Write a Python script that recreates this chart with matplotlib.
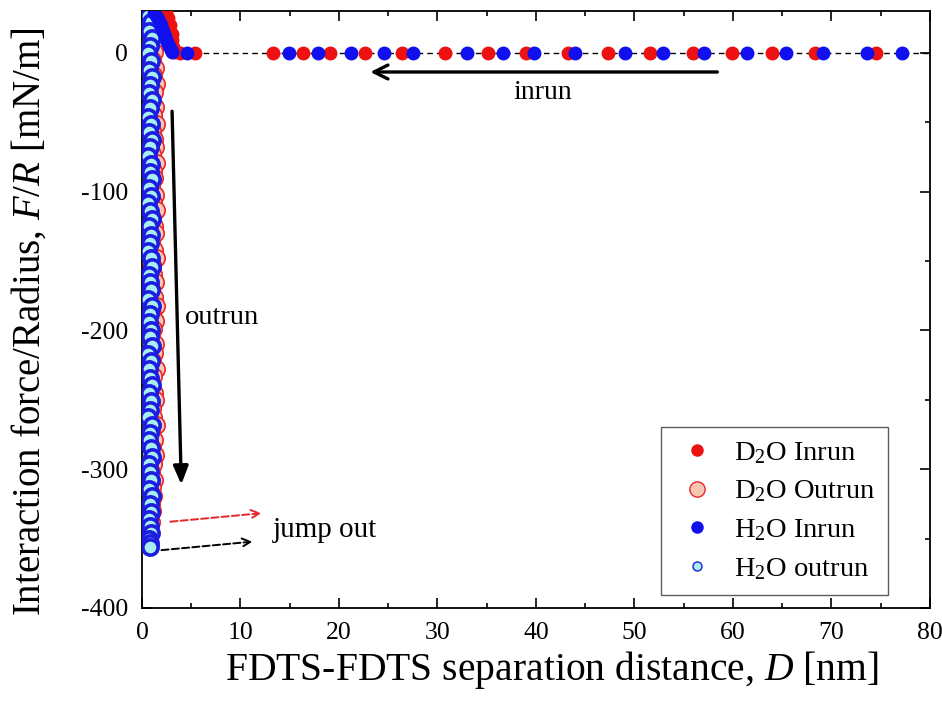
import matplotlib
matplotlib.use("Agg")
import matplotlib.pyplot as plt
from matplotlib.lines import Line2D

plt.rcParams['font.family'] = ['Liberation Serif', 'DejaVu Serif']
plt.rcParams['mathtext.fontset'] = 'custom'
plt.rcParams['mathtext.rm'] = 'Liberation Serif'
plt.rcParams['mathtext.it'] = 'Liberation Serif:italic'
plt.rcParams['axes.unicode_minus'] = False

# ---- data ----
# D2O approach (inrun)
d2o_in_x = [74.5, 68.3, 64.0, 59.9, 55.9, 51.6, 47.3, 43.3, 39.0, 35.1,
            30.8, 26.4, 22.6, 19.1, 16.3, 13.3, 5.4, 3.9, 3.3, 3.2,
            3.1, 3.0, 2.8, 2.6, 2.4]
d2o_in_y = [0, 0, 0, 0, 0, 0, 0, 0, 0, 0,
            0, 0, 0, 0, 0, 0, 0, 0, 1, 4,
            9, 14, 20, 25, 29]

# H2O approach (inrun)
h2o_in_x = [77.2, 73.6, 69.1, 65.4, 61.4, 57.1, 52.9, 49.0, 44.0, 39.8,
            36.7, 33.0, 27.5, 24.6, 21.2, 17.9, 14.9, 4.6, 3.1, 2.9,
            2.7, 2.5, 2.3, 2.1, 1.9, 1.7, 1.5, 1.2]
h2o_in_y = [0, 0, 0, 0, 0, 0, 0, 0, 0, 0,
            0, 0, 0, 0, 0, 0, 0, 0, 0.5, 2,
            5, 8, 12, 16, 20, 23, 26, 29]

# D2O retraction (outrun)
d2o_out_x = [1.2, 1.5, 1.3, 1.1, 1.4, 1.2, 1.0, 1.3, 1.1, 1.4,
             1.2, 0.9, 1.3, 1.1, 1.4, 1.0, 1.2, 1.3, 1.0, 1.4,
             1.1, 1.2, 0.9, 1.3, 1.1, 1.4, 1.0, 1.2, 1.3, 0.9,
             1.2, 1.4, 1.0, 1.1, 1.3, 0.9, 1.2, 1.4, 1.0, 1.3,
             1.1, 0.9, 1.3, 1.2, 1.0, 1.4, 1.1, 0.9, 1.2, 1.3,
             1.0, 1.1, 1.4, 0.9, 1.2, 1.0, 1.3, 1.1, 0.9, 1.2,
             1.0, 1.1, 0.9, 1.0, 0.8, 0.9]
d2o_out_y = [28, 23, 17, 12, 6, 1, -5, -11, -16, -22,
             -28, -33, -39, -45, -51, -56, -62, -68, -73, -79,
             -85, -90, -96, -102, -108, -113, -119, -125, -130, -136,
             -142, -148, -153, -159, -165, -170, -176, -182, -188, -193,
             -199, -205, -210, -216, -222, -228, -233, -239, -245, -250,
             -256, -262, -268, -273, -279, -285, -290, -296, -302, -308,
             -313, -319, -325, -330, -335, -338]

# H2O retraction (outrun)
h2o_out_x = [0.6, 0.9, 0.7, 1.0, 0.8, 0.6, 0.9, 0.7, 1.0, 0.8,
             0.7, 1.0, 0.8, 0.6, 0.9, 0.7, 1.0, 0.8, 0.6, 0.9,
             0.8, 1.0, 0.7, 0.9, 0.6, 0.8, 1.0, 0.7, 0.9, 0.8,
             0.6, 0.9, 1.0, 0.7, 0.8, 0.9, 0.6, 1.0, 0.8, 0.7,
             0.9, 0.8, 1.0, 0.6, 0.9, 0.7, 0.8, 1.0, 0.7, 0.9,
             0.8, 0.6, 1.0, 0.8, 0.7, 0.9, 1.0, 0.7, 0.8, 0.9,
             0.7, 1.0, 0.8, 0.9, 0.7, 0.8, 0.9, 0.7, 0.8, 0.8]
h2o_out_y = [27, 22, 16, 11, 5, 0, -6, -12, -17, -23,
             -29, -34, -40, -46, -51, -57, -63, -68, -74, -80,
             -86, -91, -97, -103, -108, -114, -120, -125, -131, -137,
             -143, -148, -154, -160, -165, -171, -177, -182, -188, -194,
             -200, -205, -211, -217, -222, -228, -234, -239, -245, -251,
             -257, -262, -268, -274, -279, -285, -291, -296, -302, -308,
             -314, -319, -325, -331, -336, -341, -346, -350, -353, -356]

fig = plt.figure(figsize=(9.42, 7.19), dpi=100)
ax = fig.add_axes([0.1507, 0.1544, 0.8365, 0.8298])

# baseline of the approach curves
ax.hlines(0, 3.3, 80, colors='black', linestyles=(0, (4, 3)), lw=1.0, zorder=1)

ax.plot(d2o_out_x, d2o_out_y, 'o', ms=12.5, mfc='#f7c7b2', mec='#e8262a', mew=1.2, ls='none', zorder=2)
ax.plot(h2o_out_x, h2o_out_y, 'o', ms=11, mfc='#a6eef0', mec='#1d1de0', mew=2.6, ls='none', zorder=3)
ax.plot(d2o_in_x, d2o_in_y, 'o', ms=9, color='#ee1111', ls='none', zorder=4)
ax.plot(h2o_in_x, h2o_in_y, 'o', ms=9, color='#1010ee', ls='none', zorder=5)

ax.set_xlim(0, 80)
ax.set_ylim(-400, 30)
ax.set_xticks([0, 10, 20, 30, 40, 50, 60, 70, 80])
ax.set_xticks([5, 15, 25, 35, 45, 55, 65, 75], minor=True)
ax.set_yticks([-400, -300, -200, -100, 0])
ax.set_yticks([-350, -250, -150, -50], minor=True)
ax.tick_params(which='both', direction='in', top=True, right=True, width=1.2, labelsize=18.5, pad=10)
ax.tick_params(which='major', length=7)
ax.tick_params(which='minor', length=3.5)
for s in ax.spines.values():
    s.set_linewidth(1.3)

ax.set_xlabel('FDTS-FDTS separation distance, $D$ [nm]', fontsize=28.5)
ax.xaxis.set_label_coords(0.52, -0.068)
ax.set_ylabel('Interaction force/Radius, $F$/$R$ [mN/m]', fontsize=28)
ax.yaxis.set_label_coords(-0.119, 0.48)

# arrows and notes
ax.annotate('', xy=(22.9, -13.7), xytext=(58.7, -13.7),
            arrowprops=dict(arrowstyle='->,head_length=1.0,head_width=0.5', color='black', lw=2.4))
ax.text(40.7, -28.5, 'inrun', fontsize=20, ha='center', va='center')
ax.annotate('', xy=(4.0, -313), xytext=(3.05, -40),
            arrowprops=dict(arrowstyle='-|>,head_length=1.1,head_width=0.45', color='black', lw=2.4))
ax.text(4.4, -191, 'outrun', fontsize=20.5, ha='left', va='center')
ax.annotate('', xy=(12.4, -331.5), xytext=(2.6, -338),
            arrowprops=dict(arrowstyle='->,head_length=0.6,head_width=0.3', color='#e8262a', lw=1.4, ls='--'))
ax.annotate('', xy=(11.5, -352), xytext=(1.7, -358.5),
            arrowprops=dict(arrowstyle='->,head_length=0.6,head_width=0.3', color='black', lw=1.4, ls='--'))
ax.text(13.3, -344, 'jump out', fontsize=21, ha='left', va='center')

handles = [
    Line2D([], [], marker='o', ls='none', ms=8, color='#ee1111'),
    Line2D([], [], marker='o', ls='none', ms=11, mfc='#f7c7b2', mec='#e8262a'),
    Line2D([], [], marker='o', ls='none', ms=8, color='#1010ee'),
    Line2D([], [], marker='o', ls='none', ms=6.5, mfc='#a6eef0', mec='#1d1de0'),
]
labels = ['D$_2$O Inrun', 'D$_2$O Outrun', 'H$_2$O Inrun', 'H$_2$O outrun']
leg = ax.legend(handles, labels, loc='lower right', bbox_to_anchor=(0.947, 0.022), fontsize=20.5,
                frameon=True, fancybox=False, edgecolor='#333333', borderpad=0.45,
                labelspacing=0.45, handlelength=1.6, handletextpad=0.5, borderaxespad=0)
leg.get_frame().set_linewidth(1.0)

fig.savefig('out.png', dpi=100)
